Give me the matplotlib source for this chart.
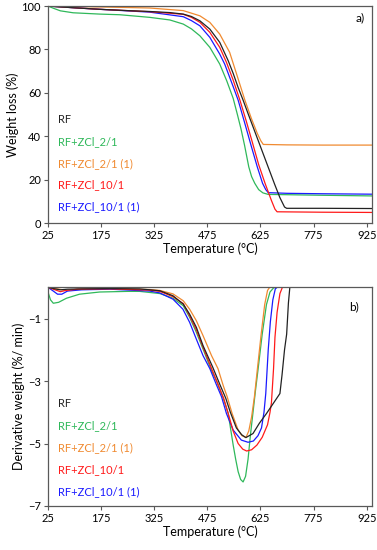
import numpy as np
import matplotlib
matplotlib.use('Agg')
import matplotlib.pyplot as plt

plt.rcParams['font.family'] = ['Lato', 'DejaVu Sans']

names = ['RF', 'RF+ZCl_2/1', 'RF+ZCl_2/1 (1)', 'RF+ZCl_10/1', 'RF+ZCl_10/1 (1)']
colors = ['#222222', '#2fb85a', '#f08a30', '#ff1a1a', '#1a1aff']

# TGA, weight (%) vs temperature (C)
tga_t_rf = [25, 60, 100, 171, 250, 312, 369, 407, 430, 454, 482, 510, 534, 548, 562, 576, 590, 605,
            620, 635, 650, 665, 680, 693, 699, 800, 940]
tga_w_rf = [100, 99.6, 99.2, 98.5, 97.9, 97.5, 97.0, 96.3, 95.2, 93.2, 89.4, 83.3, 74.8, 69, 62.5, 56.7,
            50.5, 44, 37.5, 31, 24.5, 18, 11.8, 7.5, 6.9, 6.9, 6.8]
tga_t_21 = [25, 40, 60, 96, 171, 228, 312, 369, 407, 430, 454, 482, 510, 530, 548, 560, 570, 580, 592,
            600, 609, 620, 632, 647, 800, 940]
tga_w_21 = [100, 99, 97.8, 96.9, 96.3, 96.0, 94.8, 93.6, 91.7, 89.5, 86.3, 81.0, 73.3, 65.5, 57.5, 50,
            43.5, 36, 26, 21.5, 18.4, 15.5, 14, 13.3, 12.9, 12.6]
tga_t_21b = [25, 100, 200, 312, 407, 454, 482, 510, 538, 560, 581, 600, 616, 626, 633, 700, 800, 940]
tga_w_21b = [100, 99.8, 99.5, 99.1, 97.9, 95.5, 92.5, 87.1, 78.7, 67.5, 56.7, 48, 41.4, 38, 36.3, 36.1,
             36.0, 36.0]
tga_t_101 = [25, 100, 171, 312, 407, 430, 454, 482, 510, 529, 548, 567, 585, 600, 620, 638, 656, 666,
             672, 800, 940]
tga_w_101 = [100, 99.2, 98.5, 97.4, 96.2, 94.8, 92.5, 87.9, 81.0, 74.1, 65.9, 56.7, 47, 38.5, 27, 18.4,
             10.5, 6.5, 5.3, 5.1, 5.0]
tga_t_101b = [25, 100, 171, 312, 407, 430, 454, 482, 510, 524, 548, 562, 580, 600, 616, 631, 640, 647,
              700, 800, 940]
tga_w_101b = [100, 99.2, 98.5, 97.2, 95.1, 93.3, 90.9, 85.6, 77.9, 73.3, 62.9, 56.7, 46.5, 35, 26, 18.4,
              15.5, 14.1, 13.8, 13.6, 13.4]

# DTG, derivative weight (%/min) vs temperature (C)
dtg_t_rf = [25, 45, 60, 80, 120, 200, 284, 341, 378, 407, 425, 444, 463, 490, 510, 527, 540, 557, 572,
            584, 604, 622, 642, 661, 680, 686, 693, 699, 704, 708, 940]
dtg_d_rf = [0, -0.05, -0.08, -0.06, -0.05, -0.04, -0.05, -0.11, -0.27, -0.54, -0.86, -1.28, -1.87, -2.55,
            -3.1, -3.55, -4.0, -4.5, -4.72, -4.81, -4.68, -4.35, -4.04, -3.72, -3.4, -2.8, -2.0, -1.5,
            -0.5, 0, 0]
dtg_t_21 = [25, 32, 40, 55, 77, 114, 171, 250, 284, 341, 378, 407, 425, 444, 463, 487, 501, 520, 534,
            541, 548, 555, 562, 569, 576, 583, 590, 597, 604, 611, 618, 630, 642, 652, 662, 668, 940]
dtg_d_21 = [-0.15, -0.4, -0.51, -0.48, -0.35, -0.22, -0.15, -0.13, -0.13, -0.2, -0.35, -0.59, -0.96,
            -1.44, -1.98, -2.67, -3.0, -3.55, -4.04, -4.55, -5.05, -5.5, -5.9, -6.15, -6.23, -6.05, -5.5,
            -4.7, -4.0, -3.3, -2.65, -1.5, -0.55, -0.15, -0.02, 0, 0]
dtg_t_21b = [25, 50, 80, 110, 200, 312, 341, 378, 407, 425, 444, 463, 487, 505, 520, 531, 545, 562, 573,
             584, 592, 600, 608, 616, 627, 637, 645, 651, 940]
dtg_d_21b = [0, -0.05, -0.1, -0.06, -0.04, -0.07, -0.1, -0.21, -0.43, -0.70, -1.07, -1.55, -2.19, -2.6,
             -3.15, -3.5, -4.04, -4.57, -4.75, -4.81, -4.6, -4.15, -3.5, -2.65, -1.5, -0.55, -0.1, 0, 0]
dtg_t_101 = [25, 45, 60, 75, 110, 200, 312, 341, 378, 407, 425, 444, 463, 487, 505, 521, 534, 548, 562,
             575, 586, 600, 615, 630, 645, 652, 656, 662, 666, 672, 680, 687, 940]
dtg_d_101 = [0, -0.08, -0.14, -0.1, -0.06, -0.05, -0.09, -0.13, -0.3, -0.52, -0.91, -1.36, -1.92, -2.6,
             -3.1, -3.55, -4.04, -4.6, -5.0, -5.18, -5.24, -5.2, -5.05, -4.8, -4.4, -4.0, -3.7, -2.6,
             -1.6, -0.8, -0.2, 0, 0]
dtg_t_101b = [25, 40, 52, 64, 80, 120, 200, 312, 341, 378, 406, 425, 444, 463, 482, 500, 515, 529, 548,
              571, 590, 605, 618, 628, 635, 640, 647, 653, 660, 667, 672, 940]
dtg_d_101b = [0, -0.12, -0.22, -0.22, -0.12, -0.08, -0.06, -0.12, -0.18, -0.38, -0.70, -1.12, -1.66,
              -2.19, -2.6, -3.1, -3.5, -4.04, -4.57, -4.89, -4.96, -4.92, -4.75, -4.5, -4.0, -3.4, -2.0,
              -1.1, -0.4, -0.05, 0, 0]

tga = [(tga_t_rf, tga_w_rf), (tga_t_21, tga_w_21), (tga_t_21b, tga_w_21b),
       (tga_t_101, tga_w_101), (tga_t_101b, tga_w_101b)]
dtg = [(dtg_t_rf, dtg_d_rf), (dtg_t_21, dtg_d_21), (dtg_t_21b, dtg_d_21b),
       (dtg_t_101, dtg_d_101), (dtg_t_101b, dtg_d_101b)]

x_ticks = [25, 175, 325, 475, 625, 775, 925]

fig = plt.figure(figsize=(3.77, 5.5), dpi=100)
ax1 = fig.add_axes([0.1273, 0.594, 0.8594, 0.395])
ax2 = fig.add_axes([0.1273, 0.08, 0.8594, 0.3976])

frame = '#595959'
for ax in (ax1, ax2):
    for s in ax.spines.values():
        s.set_color(frame)
        s.set_linewidth(0.9)
    ax.tick_params(direction='out', length=3, width=0.8, color=frame,
                   labelsize=8, pad=2)
    ax.set_xlim(25, 940)
    ax.set_xticks(x_ticks)
    ax.set_xlabel('Temperature (°C)', fontsize=9, labelpad=1)

# panel a
order = [1, 2, 4, 3, 0]
for i in order:
    t, w = tga[i]
    ax1.plot(t, w, color=colors[i], lw=0.9)
ax1.set_ylim(0, 100)
ax1.set_yticks([0, 20, 40, 60, 80, 100])
ax1.set_ylabel('Weight loss (%)', fontsize=9, labelpad=2)
ax1.text(0.976, 0.945, 'a)', transform=ax1.transAxes, ha='right', va='center', fontsize=8.5)
for k, name in enumerate(names):
    ax1.text(0.03, 0.479 - k * 0.101, name, transform=ax1.transAxes,
             color=colors[k], ha='left', va='center', fontsize=8)

# panel b
for i in order:
    t, d = dtg[i]
    ax2.plot(t, d, color=colors[i], lw=0.9)
ax2.set_ylim(-7, 0)
ax2.set_yticks([-1, -3, -5, -7])
ax2.set_ylabel('Derivative weight (%/ min)', fontsize=9, labelpad=2)
ax2.text(0.958, 0.911, 'b)', transform=ax2.transAxes, ha='right', va='center', fontsize=8.5)
for k, name in enumerate(names):
    ax2.text(0.03, 0.470 - k * 0.101, name, transform=ax2.transAxes,
             color=colors[k], ha='left', va='center', fontsize=8)

fig.savefig('out.png', dpi=100)
